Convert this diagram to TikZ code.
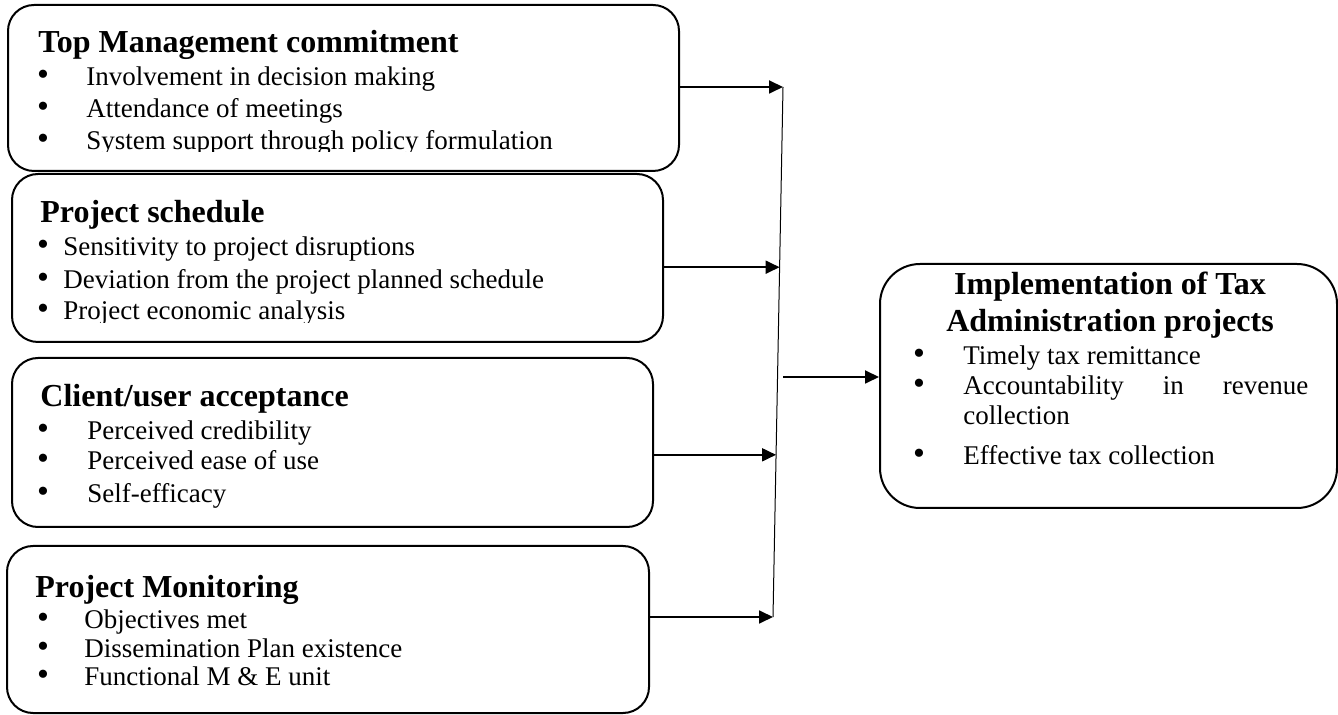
\documentclass[tikz,border=0pt]{standalone}
\usepackage{fontspec}
\setmainfont{Liberation Serif}
\usetikzlibrary{arrows.meta,fit,calc}

\begin{document}
\begin{tikzpicture}[x=0.5pt,y=-0.5pt,>={Triangle[length=7pt,width=6.5pt]},
 box/.style={draw,line width=1pt,rounded corners=13pt,inner sep=0pt},
 head/.style={anchor=base west,inner sep=0pt,font=\fontsize{16}{19}\selectfont\bfseries},
 item/.style={anchor=base west,inner sep=0pt,font=\fontsize{13.5}{16}\selectfont},
 dot/.style={anchor=base,inner sep=0pt,text height=7pt,text depth=0pt,
  font=\fontsize{17}{19}\selectfont},
 link/.style={->,line width=0.9pt}]
\useasboundingbox (0,0) rectangle (1338,715);
% Independent variables on the left
\node[box,fit={(8,5)(679,171)}] (tmc) {};
\node[head] (tmc-h) at (38,53) {Top Management commitment};
\begin{scope}
\clip (0,5) rectangle (690,152);
\foreach \txt/\yy [count=\i] in {Involvement in decision making/86,
 Attendance of meetings/118,System support through policy formulation/150}{
 \node[dot] (tmc-b\i) at (43,\yy) {\textbullet};
 \node[item] (tmc-\i) at (86,\yy) {\txt};
}
\end{scope}
\node[box,fit={(12,174)(663,342)}] (sched) {};
\node[head] (sched-h) at (40,223) {Project schedule};
\begin{scope}
\clip (0,174) rectangle (690,323);
\foreach \txt/\yy [count=\i] in {Sensitivity to project disruptions/256,
 Deviation from the project planned schedule/289,Project economic analysis/320}{
 \node[dot] (sched-b\i) at (43,\yy) {\textbullet};
 \node[item] (sched-\i) at (63,\yy) {\txt};
}
\end{scope}
\node[box,fit={(12,358)(653,527)}] (accept) {};
\node[head] (accept-h) at (40,407) {Client/user acceptance};
\foreach \txt/\yy [count=\i] in {Perceived credibility/440,
 Perceived ease of use/470,Self-efficacy/503}{
 \node[dot] (accept-b\i) at (43,\yy) {\textbullet};
 \node[item] (accept-\i) at (87,\yy) {\txt};
}
\node[box,fit={(7,546)(649,713)}] (monit) {};
\node[head] (monit-h) at (35,597) {Project Monitoring};
\foreach \txt/\yy [count=\i] in {Objectives met/628,
 Dissemination Plan existence/657,Functional M \& E unit/685}{
 \node[dot] (monit-b\i) at (43,\yy) {\textbullet};
 \node[item] (monit-\i) at (84,\yy) {\txt};
}
% Dependent variable on the right
\node[box,rounded corners=20pt,fit={(880,264)(1337,508)}] (impl) {};
\node[head,anchor=base] (impl-h1) at (1110,295) {Implementation of Tax};
\node[head,anchor=base] (impl-h2) at (1110,332) {Administration projects};
\foreach \txt/\yy [count=\i] in {Timely tax remittance/365,
 \makebox[172.5pt][s]{Accountability in revenue}/395,Effective tax collection/465}{
 \node[dot] (impl-b\i) at (919,\yy) {\textbullet};
 \node[item] (impl-\i) at (963,\yy) {\txt};
}
\node[item] (impl-2b) at (963,425) {collection};
% Collecting line and arrows
\coordinate (top) at (783,87);
\coordinate (bot) at (773,617);
\coordinate (m2) at ($(top)!0.34!(bot)$);
\coordinate (m3) at ($(top)!0.694!(bot)$);
\coordinate (mid) at (783,377);
\draw[line width=0.5pt] (top) -- (bot);
\draw[link] (tmc.east |- top) -- (top);
\draw[link] (sched.east |- m2) -- (m2);
\draw[link] (accept.east |- m3) -- (m3);
\draw[link] (monit.east |- bot) -- (bot);
\draw[link] (mid) -- (impl.west |- mid);
\end{tikzpicture}
\end{document}
